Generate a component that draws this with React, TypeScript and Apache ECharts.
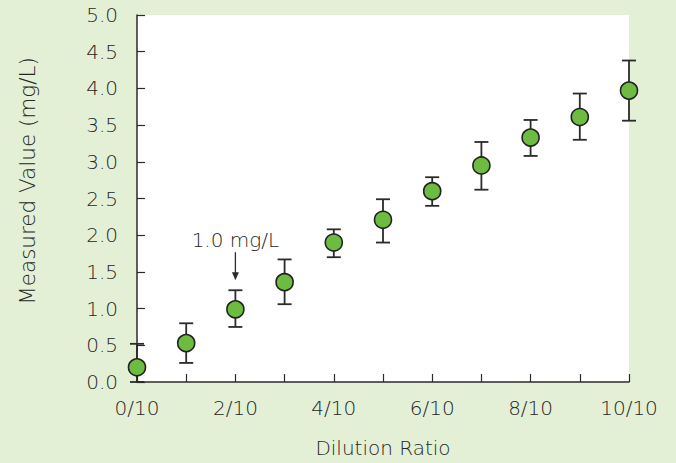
import React, { useEffect, useRef } from "react";
import * as echarts from "echarts";

const ratios = [0, 1, 2, 3, 4, 5, 6, 7, 8, 9, 10];
const means = [0.2, 0.53, 0.99, 1.36, 1.9, 2.21, 2.6, 2.95, 3.33, 3.61, 3.97];
const upper = [0.52, 0.8, 1.25, 1.67, 2.08, 2.49, 2.79, 3.27, 3.57, 3.93, 4.38];
const lower = [0.0, 0.26, 0.75, 1.06, 1.7, 1.9, 2.4, 2.62, 3.08, 3.3, 3.56];
const yTicks = { min: 0, max: 5, interval: 0.5 };
const annotation = { x: 2, y: 1.25, text: "1.0 mg/L" };
const yTitle = "Measured Value (mg/L)";
const xTitle = "Dilution Ratio";

const FONT = "'DejaVu Sans', sans-serif";
const FS = 20;
const TXT = "#262626";
const INK = "#2b2b2b";

export default function App() {
  const ref = useRef<HTMLDivElement>(null);
  useEffect(() => {
    if (!ref.current) return;
    const chart = echarts.init(ref.current, undefined, { renderer: "svg" });
    const errData = ratios.map((r, i) => [r, lower[i], upper[i]]);
    const txt = { fontFamily: FONT, fontSize: FS, color: TXT, fontWeight: 200 };
    chart.setOption({
      animation: false,
      backgroundColor: "#e3f0d6",
      grid: {
        left: 137,
        right: 47,
        top: 15,
        bottom: 80,
        show: true,
        backgroundColor: "#ffffff",
        borderWidth: 0,
      },
      graphic: [
        {
          type: "text",
          x: 27,
          y: 181,
          rotation: Math.PI / 2,
          style: {
            text: yTitle,
            fontFamily: FONT,
            fontSize: 21.5,
            fontWeight: 200,
            fill: TXT,
            align: "center",
            verticalAlign: "middle",
          },
        },
      ],
      xAxis: {
        type: "value",
        min: 0,
        max: 10,
        interval: 1,
        name: xTitle,
        nameLocation: "middle",
        nameGap: 56,
        nameTextStyle: txt,
        axisLine: { lineStyle: { color: INK, width: 1.5 } },
        axisTick: { inside: true, length: 8, lineStyle: { color: INK, width: 1.2 } },
        axisLabel: {
          ...txt,
          margin: 16,
          formatter: (v: number) => (v % 2 === 0 ? `${v}/10` : ""),
        },
        splitLine: { show: false },
      },
      yAxis: {
        type: "value",
        min: yTicks.min,
        max: yTicks.max,
        interval: yTicks.interval,
        axisLine: { show: true, lineStyle: { color: INK, width: 1.5 } },
        axisTick: { show: true, inside: true, length: 8, lineStyle: { color: INK, width: 1.2 } },
        axisLabel: {
          ...txt,
          margin: 19,
          formatter: (v: number) => v.toFixed(1),
        },
        splitLine: { show: false },
      },
      series: [
        {
          type: "custom",
          data: errData,
          clip: false,
          z: 2,
          renderItem: (params: any, api: any) => {
            const x = api.value(0);
            const lo = api.coord([x, api.value(1)]);
            const hi = api.coord([x, api.value(2)]);
            const w = 7;
            const style = { stroke: INK, lineWidth: 1.8 };
            return {
              type: "group",
              children: [
                { type: "line", shape: { x1: lo[0], y1: lo[1], x2: hi[0], y2: hi[1] }, style },
                { type: "line", shape: { x1: hi[0] - w, y1: hi[1], x2: hi[0] + w, y2: hi[1] }, style },
                { type: "line", shape: { x1: lo[0] - w, y1: lo[1], x2: lo[0] + w, y2: lo[1] }, style },
              ],
            };
          },
        },
        {
          type: "scatter",
          data: ratios.map((r, i) => [r, means[i]]),
          symbol: "circle",
          symbolSize: 17,
          clip: false,
          z: 3,
          itemStyle: { color: "#6dbb40", borderColor: "#222", borderWidth: 1.6, opacity: 1 },
        },
        {
          type: "custom",
          data: [[annotation.x, annotation.y]],
          clip: false,
          z: 4,
          renderItem: (params: any, api: any) => {
            const p = api.coord([api.value(0), api.value(1)]);
            const tipY = p[1] - 10;
            const topY = p[1] - 38;
            return {
              type: "group",
              children: [
                {
                  type: "text",
                  x: p[0],
                  y: p[1] - 50,
                  style: {
                    text: annotation.text,
                    fontFamily: FONT,
                    fontSize: FS,
                    fontWeight: 200,
                    fill: TXT,
                    align: "center",
                    verticalAlign: "middle",
                  },
                },
                {
                  type: "line",
                  shape: { x1: p[0], y1: topY, x2: p[0], y2: tipY - 4 },
                  style: { stroke: INK, lineWidth: 1.3 },
                },
                {
                  type: "polygon",
                  shape: {
                    points: [
                      [p[0] - 3.5, tipY - 8],
                      [p[0] + 3.5, tipY - 8],
                      [p[0], tipY],
                    ],
                  },
                  style: { fill: INK },
                },
              ],
            };
          },
        },
      ],
    });
    return () => chart.dispose();
  }, []);
  return <div ref={ref} style={{ width: 676, height: 463, position: "absolute", left: 0, top: 0 }} />;
}
